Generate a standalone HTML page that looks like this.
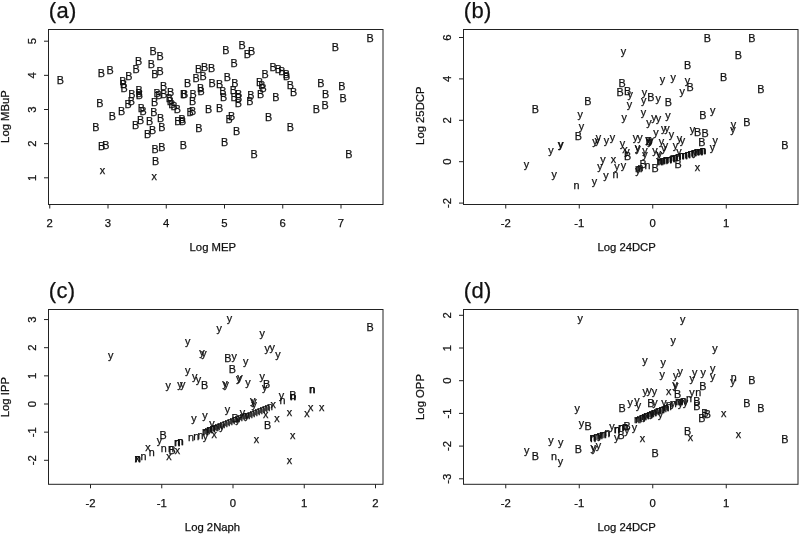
<!DOCTYPE html><html><head><meta charset="utf-8"><title>fig</title><style>
html,body{margin:0;padding:0;background:#fff}svg{display:block;will-change:transform}
text{font-family:"Liberation Sans",sans-serif;fill:#111;stroke:#111;stroke-width:0.25px}
.m{font-size:10.8px;text-anchor:middle}.t{font-size:11.3px;text-anchor:middle}.h{font-size:22.0px;letter-spacing:0.4px}
line,rect{stroke:#222;stroke-width:1;fill:none}
</style></head><body>
<svg width="800" height="534" viewBox="0 0 800 534">
<rect x="0" y="0" width="800" height="534" style="fill:#fff;stroke:none"/>
<g>
<rect x="48.50" y="29.50" width="334.50" height="175.00"/>
<text class="h" x="48.7" y="18.3">(a)</text>
<line x1="49.75" y1="204.50" x2="49.75" y2="208.50"/>
<text class="t" x="49.75" y="227.40">2</text>
<line x1="108.00" y1="204.50" x2="108.00" y2="208.50"/>
<text class="t" x="108.00" y="227.40">3</text>
<line x1="166.25" y1="204.50" x2="166.25" y2="208.50"/>
<text class="t" x="166.25" y="227.40">4</text>
<line x1="224.50" y1="204.50" x2="224.50" y2="208.50"/>
<text class="t" x="224.50" y="227.40">5</text>
<line x1="282.75" y1="204.50" x2="282.75" y2="208.50"/>
<text class="t" x="282.75" y="227.40">6</text>
<line x1="341.00" y1="204.50" x2="341.00" y2="208.50"/>
<text class="t" x="341.00" y="227.40">7</text>
<line x1="44.00" y1="177.80" x2="48.50" y2="177.80"/>
<text class="t" transform="translate(35.90,177.80) rotate(-90)">1</text>
<line x1="44.00" y1="143.65" x2="48.50" y2="143.65"/>
<text class="t" transform="translate(35.90,143.65) rotate(-90)">2</text>
<line x1="44.00" y1="109.50" x2="48.50" y2="109.50"/>
<text class="t" transform="translate(35.90,109.50) rotate(-90)">3</text>
<line x1="44.00" y1="75.35" x2="48.50" y2="75.35"/>
<text class="t" transform="translate(35.90,75.35) rotate(-90)">4</text>
<line x1="44.00" y1="41.20" x2="48.50" y2="41.20"/>
<text class="t" transform="translate(35.90,41.20) rotate(-90)">5</text>
<text class="t" x="212.80" y="250.80">Log MEP</text>
<text class="t" transform="translate(9.40,116.50) rotate(-90)">Log MBuP</text>
<text class="m" x="60.4" y="84.2">B</text>
<text class="m" x="101.3" y="76.8">B</text>
<text class="m" x="110.2" y="74.1">B</text>
<text class="m" x="99.8" y="106.8">B</text>
<text class="m" x="122.8" y="84.5">B</text>
<text class="m" x="123.5" y="88.1">B</text>
<text class="m" x="124.0" y="91.8">B</text>
<text class="m" x="128.9" y="79.7">B</text>
<text class="m" x="136.0" y="72.5">B</text>
<text class="m" x="138.5" y="64.9">B</text>
<text class="m" x="153.0" y="54.9">B</text>
<text class="m" x="160.2" y="60.4">B</text>
<text class="m" x="151.4" y="68.4">B</text>
<text class="m" x="154.9" y="77.5">B</text>
<text class="m" x="160.2" y="74.5">B</text>
<text class="m" x="163.6" y="89.7">B</text>
<text class="m" x="139.0" y="93.7">B</text>
<text class="m" x="139.1" y="96.7">B</text>
<text class="m" x="139.3" y="98.9">B</text>
<text class="m" x="131.9" y="98.4">B</text>
<text class="m" x="131.4" y="105.4">B</text>
<text class="m" x="128.1" y="107.6">B</text>
<text class="m" x="157.1" y="97.1">B</text>
<text class="m" x="158.9" y="99.3">B</text>
<text class="m" x="163.8" y="98.4">B</text>
<text class="m" x="170.6" y="95.9">B</text>
<text class="m" x="154.7" y="105.6">B</text>
<text class="m" x="169.3" y="102.1">B</text>
<text class="m" x="170.3" y="105.1">B</text>
<text class="m" x="171.8" y="107.6">B</text>
<text class="m" x="174.0" y="110.1">B</text>
<text class="m" x="141.3" y="112.2">B</text>
<text class="m" x="143.0" y="115.2">B</text>
<text class="m" x="121.7" y="115.4">B</text>
<text class="m" x="153.9" y="116.4">B</text>
<text class="m" x="112.3" y="120.4">B</text>
<text class="m" x="177.4" y="113.4">B</text>
<text class="m" x="95.8" y="130.7">B</text>
<text class="m" x="101.6" y="149.9">B</text>
<text class="m" x="105.8" y="149.1">B</text>
<text class="m" x="155.6" y="164.5">B</text>
<text class="m" x="155.1" y="152.9">B</text>
<text class="m" x="161.8" y="151.1">B</text>
<text class="m" x="147.7" y="138.2">B</text>
<text class="m" x="152.7" y="134.0">B</text>
<text class="m" x="161.8" y="131.2">B</text>
<text class="m" x="135.5" y="128.5">B</text>
<text class="m" x="140.5" y="124.0">B</text>
<text class="m" x="149.7" y="125.1">B</text>
<text class="m" x="160.6" y="121.5">B</text>
<text class="m" x="225.8" y="54.0">B</text>
<text class="m" x="242.0" y="49.0">B</text>
<text class="m" x="247.4" y="57.9">B</text>
<text class="m" x="251.7" y="54.9">B</text>
<text class="m" x="234.0" y="66.9">B</text>
<text class="m" x="198.5" y="72.8">B</text>
<text class="m" x="204.7" y="71.3">B</text>
<text class="m" x="211.5" y="71.6">B</text>
<text class="m" x="203.0" y="80.0">B</text>
<text class="m" x="196.0" y="82.2">B</text>
<text class="m" x="187.6" y="87.0">B</text>
<text class="m" x="212.2" y="87.0">B</text>
<text class="m" x="219.7" y="87.5">B</text>
<text class="m" x="227.3" y="81.2">B</text>
<text class="m" x="234.8" y="86.7">B</text>
<text class="m" x="233.3" y="93.9">B</text>
<text class="m" x="234.2" y="101.3">B</text>
<text class="m" x="238.7" y="98.1">B</text>
<text class="m" x="238.7" y="101.8">B</text>
<text class="m" x="238.3" y="106.8">B</text>
<text class="m" x="222.8" y="95.1">B</text>
<text class="m" x="223.6" y="100.9">B</text>
<text class="m" x="200.7" y="92.2">B</text>
<text class="m" x="201.1" y="94.9">B</text>
<text class="m" x="193.0" y="97.6">B</text>
<text class="m" x="192.6" y="105.1">B</text>
<text class="m" x="183.7" y="98.4">B</text>
<text class="m" x="184.6" y="98.4">B</text>
<text class="m" x="208.5" y="112.7">B</text>
<text class="m" x="219.7" y="112.1">B</text>
<text class="m" x="192.6" y="115.2">B</text>
<text class="m" x="190.1" y="116.3">B</text>
<text class="m" x="250.9" y="99.3">B</text>
<text class="m" x="249.9" y="105.1">B</text>
<text class="m" x="260.5" y="97.6">B</text>
<text class="m" x="259.6" y="86.4">B</text>
<text class="m" x="261.8" y="89.2">B</text>
<text class="m" x="263.0" y="92.2">B</text>
<text class="m" x="265.0" y="78.0">B</text>
<text class="m" x="273.0" y="70.8">B</text>
<text class="m" x="278.4" y="73.3">B</text>
<text class="m" x="281.9" y="75.3">B</text>
<text class="m" x="286.4" y="77.5">B</text>
<text class="m" x="286.7" y="80.0">B</text>
<text class="m" x="290.3" y="88.7">B</text>
<text class="m" x="293.6" y="95.6">B</text>
<text class="m" x="275.9" y="100.9">B</text>
<text class="m" x="231.6" y="119.8">B</text>
<text class="m" x="268.7" y="121.0">B</text>
<text class="m" x="177.9" y="124.8">B</text>
<text class="m" x="182.0" y="123.1">B</text>
<text class="m" x="182.6" y="125.1">B</text>
<text class="m" x="198.8" y="131.5">B</text>
<text class="m" x="183.4" y="149.1">B</text>
<text class="m" x="229.0" y="123.1">B</text>
<text class="m" x="236.5" y="135.2">B</text>
<text class="m" x="224.6" y="146.3">B</text>
<text class="m" x="254.1" y="157.8">B</text>
<text class="m" x="290.3" y="131.2">B</text>
<text class="m" x="370.2" y="41.8">B</text>
<text class="m" x="335.4" y="51.0">B</text>
<text class="m" x="320.8" y="87.0">B</text>
<text class="m" x="325.6" y="97.6">B</text>
<text class="m" x="325.0" y="109.0">B</text>
<text class="m" x="316.4" y="113.0">B</text>
<text class="m" x="341.9" y="90.4">B</text>
<text class="m" x="343.1" y="101.8">B</text>
<text class="m" x="348.8" y="158.3">B</text>
<text class="m" x="102.5" y="174.3">x</text>
<text class="m" x="154.2" y="179.8">x</text>
</g>
<g>
<rect x="463.50" y="29.50" width="334.50" height="175.00"/>
<text class="h" x="463.7" y="18.3">(b)</text>
<line x1="505.75" y1="204.50" x2="505.75" y2="208.50"/>
<text class="t" x="505.75" y="227.40">-2</text>
<line x1="579.25" y1="204.50" x2="579.25" y2="208.50"/>
<text class="t" x="579.25" y="227.40">-1</text>
<line x1="652.75" y1="204.50" x2="652.75" y2="208.50"/>
<text class="t" x="652.75" y="227.40">0</text>
<line x1="726.25" y1="204.50" x2="726.25" y2="208.50"/>
<text class="t" x="726.25" y="227.40">1</text>
<line x1="459.00" y1="203.10" x2="463.50" y2="203.10"/>
<text class="t" transform="translate(450.90,203.10) rotate(-90)">-2</text>
<line x1="459.00" y1="161.70" x2="463.50" y2="161.70"/>
<text class="t" transform="translate(450.90,161.70) rotate(-90)">0</text>
<line x1="459.00" y1="120.30" x2="463.50" y2="120.30"/>
<text class="t" transform="translate(450.90,120.30) rotate(-90)">2</text>
<line x1="459.00" y1="78.90" x2="463.50" y2="78.90"/>
<text class="t" transform="translate(450.90,78.90) rotate(-90)">4</text>
<line x1="459.00" y1="37.50" x2="463.50" y2="37.50"/>
<text class="t" transform="translate(450.90,37.50) rotate(-90)">6</text>
<text class="t" x="626.60" y="250.80">Log 24DCP</text>
<text class="t" transform="translate(424.40,115.70) rotate(-90)">Log 25DCP</text>
<text class="m" x="535.4" y="112.9">B</text>
<text class="m" x="587.8" y="104.5">B</text>
<text class="m" x="578.4" y="140.4">B</text>
<text class="m" x="707.3" y="41.8">B</text>
<text class="m" x="687.7" y="68.8">B</text>
<text class="m" x="690.0" y="90.9">B</text>
<text class="m" x="622.0" y="87.0">B</text>
<text class="m" x="620.2" y="95.6">B</text>
<text class="m" x="627.7" y="94.6">B</text>
<text class="m" x="650.8" y="101.4">B</text>
<text class="m" x="668.3" y="106.1">B</text>
<text class="m" x="751.9" y="42.0">B</text>
<text class="m" x="738.4" y="59.1">B</text>
<text class="m" x="723.5" y="80.5">B</text>
<text class="m" x="760.8" y="92.6">B</text>
<text class="m" x="702.8" y="119.4">B</text>
<text class="m" x="697.5" y="136.4">B</text>
<text class="m" x="705.0" y="136.9">B</text>
<text class="m" x="701.8" y="145.9">B</text>
<text class="m" x="746.9" y="126.0">B</text>
<text class="m" x="784.9" y="149.1">B</text>
<text class="m" x="627.5" y="160.4">B</text>
<text class="m" x="643.0" y="168.4">B</text>
<text class="m" x="655.0" y="172.4">B</text>
<text class="m" x="678.0" y="167.9">B</text>
<text class="m" x="649.0" y="145.4">B</text>
<text class="m" x="623.5" y="54.8">y</text>
<text class="m" x="662.4" y="83.3">y</text>
<text class="m" x="673.3" y="80.5">y</text>
<text class="m" x="687.5" y="83.5">y</text>
<text class="m" x="682.2" y="94.7">y</text>
<text class="m" x="630.2" y="97.7">y</text>
<text class="m" x="629.4" y="108.2">y</text>
<text class="m" x="644.5" y="95.5">y</text>
<text class="m" x="643.6" y="104.2">y</text>
<text class="m" x="658.3" y="102.1">y</text>
<text class="m" x="712.7" y="113.5">y</text>
<text class="m" x="643.5" y="115.7">y</text>
<text class="m" x="624.2" y="121.2">y</text>
<text class="m" x="649.0" y="125.7">y</text>
<text class="m" x="654.0" y="121.2">y</text>
<text class="m" x="658.5" y="121.7">y</text>
<text class="m" x="668.0" y="118.7">y</text>
<text class="m" x="656.0" y="136.2">y</text>
<text class="m" x="663.7" y="132.2">y</text>
<text class="m" x="667.0" y="131.7">y</text>
<text class="m" x="671.5" y="138.2">y</text>
<text class="m" x="692.5" y="132.7">y</text>
<text class="m" x="733.5" y="127.5">y</text>
<text class="m" x="733.0" y="132.8">y</text>
<text class="m" x="715.2" y="144.2">y</text>
<text class="m" x="712.5" y="151.0">y</text>
<text class="m" x="598.5" y="140.7">y</text>
<text class="m" x="595.0" y="144.7">y</text>
<text class="m" x="597.5" y="143.7">y</text>
<text class="m" x="606.5" y="144.2">y</text>
<text class="m" x="612.5" y="140.7">y</text>
<text class="m" x="635.5" y="140.7">y</text>
<text class="m" x="640.0" y="140.7">y</text>
<text class="m" x="622.5" y="147.4">y</text>
<text class="m" x="627.0" y="154.7">y</text>
<text class="m" x="661.5" y="144.7">y</text>
<text class="m" x="679.5" y="141.7">y</text>
<text class="m" x="682.5" y="144.2">y</text>
<text class="m" x="665.5" y="149.2">y</text>
<text class="m" x="675.5" y="149.2">y</text>
<text class="m" x="637.5" y="151.2">y</text>
<text class="m" x="638.0" y="151.5">y</text>
<text class="m" x="645.0" y="154.2">y</text>
<text class="m" x="645.0" y="157.7">y</text>
<text class="m" x="655.0" y="153.7">y</text>
<text class="m" x="659.5" y="157.7">y</text>
<text class="m" x="664.0" y="151.7">y</text>
<text class="m" x="658.5" y="156.7">y</text>
<text class="m" x="679.0" y="154.7">y</text>
<text class="m" x="603.0" y="162.7">y</text>
<text class="m" x="600.0" y="169.7">y</text>
<text class="m" x="617.0" y="169.7">y</text>
<text class="m" x="623.5" y="169.2">y</text>
<text class="m" x="606.0" y="179.2">y</text>
<text class="m" x="594.5" y="184.7">y</text>
<text class="m" x="580.3" y="117.8">y</text>
<text class="m" x="581.4" y="130.0">y</text>
<text class="m" x="560.5" y="147.9">y</text>
<text class="m" x="561.0" y="147.7">y</text>
<text class="m" x="551.0" y="153.8">y</text>
<text class="m" x="526.5" y="168.3">y</text>
<text class="m" x="554.3" y="177.7">y</text>
<text class="m" x="638.0" y="174.2">y</text>
<text class="m" x="695.0" y="155.7">y</text>
<text class="m" x="648.0" y="143.2">y</text>
<text class="m" x="650.0" y="145.2">y</text>
<text class="m" x="651.0" y="143.7">y</text>
<text class="m" x="576.4" y="188.5">n</text>
<text class="m" x="615.5" y="177.8">n</text>
<text class="m" x="647.5" y="169.3">n</text>
<text class="m" x="638.0" y="172.3">n</text>
<text class="m" x="639.5" y="171.8">n</text>
<text class="m" x="640.5" y="171.3">n</text>
<text class="m" x="659.5" y="164.8">n</text>
<text class="m" x="662.6" y="164.0">n</text>
<text class="m" x="665.7" y="163.3">n</text>
<text class="m" x="668.8" y="162.5">n</text>
<text class="m" x="671.9" y="161.7">n</text>
<text class="m" x="675.0" y="160.9">n</text>
<text class="m" x="678.1" y="160.1">n</text>
<text class="m" x="681.2" y="159.3">n</text>
<text class="m" x="684.4" y="158.5">n</text>
<text class="m" x="687.5" y="157.8">n</text>
<text class="m" x="690.6" y="157.0">n</text>
<text class="m" x="693.7" y="156.2">n</text>
<text class="m" x="696.8" y="155.4">n</text>
<text class="m" x="699.9" y="154.6">n</text>
<text class="m" x="703.0" y="153.8">n</text>
<text class="m" x="660.0" y="164.8">n</text>
<text class="m" x="663.1" y="164.0">n</text>
<text class="m" x="666.2" y="163.3">n</text>
<text class="m" x="669.3" y="162.5">n</text>
<text class="m" x="672.4" y="161.7">n</text>
<text class="m" x="675.5" y="160.9">n</text>
<text class="m" x="678.6" y="160.1">n</text>
<text class="m" x="681.8" y="159.3">n</text>
<text class="m" x="684.9" y="158.5">n</text>
<text class="m" x="688.0" y="157.8">n</text>
<text class="m" x="691.1" y="157.0">n</text>
<text class="m" x="694.2" y="156.2">n</text>
<text class="m" x="697.3" y="155.4">n</text>
<text class="m" x="700.4" y="154.6">n</text>
<text class="m" x="703.5" y="153.8">n</text>
<text class="m" x="661.0" y="164.5">n</text>
<text class="m" x="665.0" y="163.5">n</text>
<text class="m" x="669.0" y="162.5">n</text>
<text class="m" x="673.0" y="161.4">n</text>
<text class="m" x="702.6" y="154.1">n</text>
<text class="m" x="699.5" y="154.6">n</text>
<text class="m" x="613.5" y="163.3">x</text>
<text class="m" x="697.5" y="171.3">x</text>
<text class="m" x="625.0" y="152.8">x</text>
<text class="m" x="648.5" y="144.8">x</text>
</g>
<g>
<rect x="48.50" y="309.50" width="334.50" height="174.80"/>
<text class="h" x="48.7" y="298.0">(c)</text>
<line x1="90.50" y1="484.30" x2="90.50" y2="488.30"/>
<text class="t" x="90.50" y="507.20">-2</text>
<line x1="161.75" y1="484.30" x2="161.75" y2="488.30"/>
<text class="t" x="161.75" y="507.20">-1</text>
<line x1="233.00" y1="484.30" x2="233.00" y2="488.30"/>
<text class="t" x="233.00" y="507.20">0</text>
<line x1="304.25" y1="484.30" x2="304.25" y2="488.30"/>
<text class="t" x="304.25" y="507.20">1</text>
<line x1="375.50" y1="484.30" x2="375.50" y2="488.30"/>
<text class="t" x="375.50" y="507.20">2</text>
<line x1="44.00" y1="460.30" x2="48.50" y2="460.30"/>
<text class="t" transform="translate(35.90,460.30) rotate(-90)">-2</text>
<line x1="44.00" y1="432.15" x2="48.50" y2="432.15"/>
<text class="t" transform="translate(35.90,432.15) rotate(-90)">-1</text>
<line x1="44.00" y1="404.00" x2="48.50" y2="404.00"/>
<text class="t" transform="translate(35.90,404.00) rotate(-90)">0</text>
<line x1="44.00" y1="375.85" x2="48.50" y2="375.85"/>
<text class="t" transform="translate(35.90,375.85) rotate(-90)">1</text>
<line x1="44.00" y1="347.70" x2="48.50" y2="347.70"/>
<text class="t" transform="translate(35.90,347.70) rotate(-90)">2</text>
<line x1="44.00" y1="319.55" x2="48.50" y2="319.55"/>
<text class="t" transform="translate(35.90,319.55) rotate(-90)">3</text>
<text class="t" x="212.50" y="530.60">Log 2Naph</text>
<text class="t" transform="translate(9.40,397.10) rotate(-90)">Log IPP</text>
<text class="m" x="110.8" y="358.8">y</text>
<text class="m" x="168.1" y="389.3">y</text>
<text class="m" x="180.0" y="388.1">y</text>
<text class="m" x="182.6" y="387.6">y</text>
<text class="m" x="229.5" y="321.9">y</text>
<text class="m" x="219.1" y="331.7">y</text>
<text class="m" x="187.6" y="345.4">y</text>
<text class="m" x="262.1" y="337.3">y</text>
<text class="m" x="267.2" y="351.6">y</text>
<text class="m" x="272.2" y="350.9">y</text>
<text class="m" x="278.0" y="357.6">y</text>
<text class="m" x="202.0" y="356.2">y</text>
<text class="m" x="204.0" y="357.2">y</text>
<text class="m" x="234.2" y="360.0">y</text>
<text class="m" x="245.7" y="364.7">y</text>
<text class="m" x="187.6" y="373.9">y</text>
<text class="m" x="194.8" y="379.7">y</text>
<text class="m" x="198.5" y="382.6">y</text>
<text class="m" x="225.0" y="387.0">y</text>
<text class="m" x="226.1" y="388.1">y</text>
<text class="m" x="238.8" y="381.6">y</text>
<text class="m" x="240.0" y="380.7">y</text>
<text class="m" x="247.9" y="385.6">y</text>
<text class="m" x="262.1" y="379.7">y</text>
<text class="m" x="264.6" y="390.9">y</text>
<text class="m" x="159.4" y="443.7">y</text>
<text class="m" x="227.4" y="413.2">y</text>
<text class="m" x="205.0" y="419.3">y</text>
<text class="m" x="194.0" y="422.4">y</text>
<text class="m" x="212.0" y="426.5">y</text>
<text class="m" x="242.5" y="415.7">y</text>
<text class="m" x="205.4" y="440.4">y</text>
<text class="m" x="254.0" y="405.2">y</text>
<text class="m" x="252.6" y="403.6">y</text>
<text class="m" x="254.2" y="407.7">y</text>
<text class="m" x="281.4" y="398.9">y</text>
<text class="m" x="222.0" y="429.7">y</text>
<text class="m" x="238.0" y="422.7">y</text>
<text class="m" x="247.0" y="418.7">y</text>
<text class="m" x="227.8" y="362.2">B</text>
<text class="m" x="232.3" y="373.4">B</text>
<text class="m" x="204.7" y="388.8">B</text>
<text class="m" x="266.7" y="387.9">B</text>
<text class="m" x="292.8" y="399.4">B</text>
<text class="m" x="370.2" y="331.2">B</text>
<text class="m" x="163.1" y="438.8">B</text>
<text class="m" x="172.1" y="453.5">B</text>
<text class="m" x="267.6" y="428.8">B</text>
<text class="m" x="235.0" y="422.4">B</text>
<text class="m" x="171.0" y="452.1">n</text>
<text class="m" x="137.5" y="462.1">n</text>
<text class="m" x="138.0" y="461.9">n</text>
<text class="m" x="143.4" y="459.8">n</text>
<text class="m" x="151.8" y="456.4">n</text>
<text class="m" x="163.7" y="451.8">n</text>
<text class="m" x="176.9" y="446.0">n</text>
<text class="m" x="177.4" y="445.8">n</text>
<text class="m" x="180.3" y="444.7">n</text>
<text class="m" x="180.8" y="444.5">n</text>
<text class="m" x="191.1" y="440.5">n</text>
<text class="m" x="196.2" y="439.7">n</text>
<text class="m" x="200.4" y="438.8">n</text>
<text class="m" x="282.4" y="404.2">n</text>
<text class="m" x="292.8" y="400.4">n</text>
<text class="m" x="293.3" y="400.4">n</text>
<text class="m" x="312.0" y="393.2">n</text>
<text class="m" x="312.5" y="393.2">n</text>
<text class="m" x="205.0" y="434.8">n</text>
<text class="m" x="207.5" y="433.9">n</text>
<text class="m" x="210.0" y="432.9">n</text>
<text class="m" x="212.5" y="431.9">n</text>
<text class="m" x="215.0" y="431.0">n</text>
<text class="m" x="217.5" y="430.0">n</text>
<text class="m" x="220.0" y="429.1">n</text>
<text class="m" x="222.5" y="428.1">n</text>
<text class="m" x="225.0" y="427.1">n</text>
<text class="m" x="227.5" y="426.2">n</text>
<text class="m" x="230.0" y="425.2">n</text>
<text class="m" x="232.5" y="424.3">n</text>
<text class="m" x="235.0" y="423.3">n</text>
<text class="m" x="237.5" y="422.3">n</text>
<text class="m" x="240.0" y="421.4">n</text>
<text class="m" x="242.5" y="420.4">n</text>
<text class="m" x="245.0" y="419.4">n</text>
<text class="m" x="247.5" y="418.5">n</text>
<text class="m" x="250.0" y="417.5">n</text>
<text class="m" x="252.5" y="416.6">n</text>
<text class="m" x="255.0" y="415.6">n</text>
<text class="m" x="257.5" y="414.6">n</text>
<text class="m" x="260.0" y="413.7">n</text>
<text class="m" x="262.5" y="412.7">n</text>
<text class="m" x="265.0" y="411.8">n</text>
<text class="m" x="267.5" y="410.8">n</text>
<text class="m" x="270.0" y="409.8">n</text>
<text class="m" x="206.0" y="434.6">n</text>
<text class="m" x="209.3" y="433.4">n</text>
<text class="m" x="212.7" y="432.1">n</text>
<text class="m" x="216.0" y="430.8">n</text>
<text class="m" x="137.5" y="462.3">x</text>
<text class="m" x="148.0" y="451.4">x</text>
<text class="m" x="169.0" y="460.3">x</text>
<text class="m" x="177.5" y="454.4">x</text>
<text class="m" x="214.2" y="437.9">x</text>
<text class="m" x="273.2" y="407.9">x</text>
<text class="m" x="310.7" y="410.9">x</text>
<text class="m" x="321.6" y="410.9">x</text>
<text class="m" x="307.0" y="416.8">x</text>
<text class="m" x="289.4" y="416.3">x</text>
<text class="m" x="276.9" y="422.2">x</text>
<text class="m" x="265.6" y="418.0">x</text>
<text class="m" x="256.4" y="443.1">x</text>
<text class="m" x="292.8" y="438.6">x</text>
<text class="m" x="289.4" y="463.5">x</text>
</g>
<g>
<rect x="463.50" y="309.50" width="334.50" height="174.80"/>
<text class="h" x="463.7" y="298.0">(d)</text>
<line x1="505.75" y1="484.30" x2="505.75" y2="488.30"/>
<text class="t" x="505.75" y="507.20">-2</text>
<line x1="579.25" y1="484.30" x2="579.25" y2="488.30"/>
<text class="t" x="579.25" y="507.20">-1</text>
<line x1="652.75" y1="484.30" x2="652.75" y2="488.30"/>
<text class="t" x="652.75" y="507.20">0</text>
<line x1="726.25" y1="484.30" x2="726.25" y2="488.30"/>
<text class="t" x="726.25" y="507.20">1</text>
<line x1="459.00" y1="478.80" x2="463.50" y2="478.80"/>
<text class="t" transform="translate(450.90,478.80) rotate(-90)">-3</text>
<line x1="459.00" y1="446.10" x2="463.50" y2="446.10"/>
<text class="t" transform="translate(450.90,446.10) rotate(-90)">-2</text>
<line x1="459.00" y1="413.40" x2="463.50" y2="413.40"/>
<text class="t" transform="translate(450.90,413.40) rotate(-90)">-1</text>
<line x1="459.00" y1="380.70" x2="463.50" y2="380.70"/>
<text class="t" transform="translate(450.90,380.70) rotate(-90)">0</text>
<line x1="459.00" y1="348.00" x2="463.50" y2="348.00"/>
<text class="t" transform="translate(450.90,348.00) rotate(-90)">1</text>
<line x1="459.00" y1="315.30" x2="463.50" y2="315.30"/>
<text class="t" transform="translate(450.90,315.30) rotate(-90)">2</text>
<text class="t" x="626.60" y="530.60">Log 24DCP</text>
<text class="t" transform="translate(424.40,397.00) rotate(-90)">Log OPP</text>
<text class="m" x="580.3" y="321.9">y</text>
<text class="m" x="577.3" y="412.0">y</text>
<text class="m" x="581.4" y="427.0">y</text>
<text class="m" x="551.0" y="444.3">y</text>
<text class="m" x="560.8" y="446.0">y</text>
<text class="m" x="526.7" y="453.8">y</text>
<text class="m" x="560.5" y="465.1">y</text>
<text class="m" x="593.2" y="450.5">y</text>
<text class="m" x="682.7" y="323.1">y</text>
<text class="m" x="673.3" y="344.2">y</text>
<text class="m" x="714.9" y="351.5">y</text>
<text class="m" x="645.0" y="364.3">y</text>
<text class="m" x="663.1" y="365.5">y</text>
<text class="m" x="662.1" y="377.7">y</text>
<text class="m" x="675.6" y="379.2">y</text>
<text class="m" x="680.1" y="375.0">y</text>
<text class="m" x="694.7" y="376.3">y</text>
<text class="m" x="692.1" y="382.1">y</text>
<text class="m" x="703.1" y="376.1">y</text>
<text class="m" x="712.6" y="372.1">y</text>
<text class="m" x="712.6" y="380.0">y</text>
<text class="m" x="675.0" y="388.1">y</text>
<text class="m" x="675.6" y="388.7">y</text>
<text class="m" x="645.2" y="395.0">y</text>
<text class="m" x="649.3" y="393.9">y</text>
<text class="m" x="654.5" y="395.1">y</text>
<text class="m" x="691.9" y="396.0">y</text>
<text class="m" x="733.0" y="385.4">y</text>
<text class="m" x="630.1" y="406.1">y</text>
<text class="m" x="637.0" y="404.1">y</text>
<text class="m" x="638.4" y="409.3">y</text>
<text class="m" x="655.0" y="405.5">y</text>
<text class="m" x="664.0" y="405.7">y</text>
<text class="m" x="594.2" y="452.2">y</text>
<text class="m" x="598.4" y="448.8">y</text>
<text class="m" x="616.8" y="440.5">y</text>
<text class="m" x="626.9" y="433.8">y</text>
<text class="m" x="634.4" y="430.6">y</text>
<text class="m" x="660.4" y="417.9">y</text>
<text class="m" x="680.5" y="407.0">y</text>
<text class="m" x="685.5" y="406.1">y</text>
<text class="m" x="612.0" y="429.7">y</text>
<text class="m" x="600.0" y="438.7">y</text>
<text class="m" x="645.0" y="419.7">y</text>
<text class="m" x="652.0" y="416.7">y</text>
<text class="m" x="673.0" y="406.7">y</text>
<text class="m" x="588.1" y="429.7">B</text>
<text class="m" x="578.3" y="452.9">B</text>
<text class="m" x="535.4" y="459.7">B</text>
<text class="m" x="702.8" y="390.1">B</text>
<text class="m" x="677.5" y="398.4">B</text>
<text class="m" x="622.0" y="411.7">B</text>
<text class="m" x="650.8" y="406.9">B</text>
<text class="m" x="627.0" y="429.9">B</text>
<text class="m" x="621.0" y="439.2">B</text>
<text class="m" x="696.9" y="405.4">B</text>
<text class="m" x="696.9" y="409.7">B</text>
<text class="m" x="701.8" y="421.7">B</text>
<text class="m" x="704.9" y="417.2">B</text>
<text class="m" x="707.4" y="418.3">B</text>
<text class="m" x="687.6" y="435.1">B</text>
<text class="m" x="655.0" y="456.7">B</text>
<text class="m" x="751.9" y="384.1">B</text>
<text class="m" x="746.9" y="407.0">B</text>
<text class="m" x="760.8" y="412.1">B</text>
<text class="m" x="784.9" y="442.9">B</text>
<text class="m" x="554.1" y="460.3">n</text>
<text class="m" x="593.2" y="442.2">n</text>
<text class="m" x="698.3" y="395.6">n</text>
<text class="m" x="733.8" y="380.5">n</text>
<text class="m" x="616.8" y="433.0">n</text>
<text class="m" x="621.0" y="431.4">n</text>
<text class="m" x="592.5" y="441.4">n</text>
<text class="m" x="596.3" y="440.2">n</text>
<text class="m" x="600.0" y="438.9">n</text>
<text class="m" x="603.8" y="437.7">n</text>
<text class="m" x="607.6" y="436.4">n</text>
<text class="m" x="637.0" y="423.0">n</text>
<text class="m" x="639.4" y="422.0">n</text>
<text class="m" x="641.9" y="421.0">n</text>
<text class="m" x="644.3" y="419.9">n</text>
<text class="m" x="646.8" y="418.9">n</text>
<text class="m" x="649.2" y="417.9">n</text>
<text class="m" x="651.7" y="416.8">n</text>
<text class="m" x="654.1" y="415.8">n</text>
<text class="m" x="656.6" y="414.8">n</text>
<text class="m" x="659.0" y="413.8">n</text>
<text class="m" x="661.5" y="412.7">n</text>
<text class="m" x="663.9" y="411.7">n</text>
<text class="m" x="666.4" y="410.7">n</text>
<text class="m" x="668.8" y="409.6">n</text>
<text class="m" x="638.3" y="422.6">n</text>
<text class="m" x="642.3" y="421.0">n</text>
<text class="m" x="646.2" y="419.3">n</text>
<text class="m" x="650.2" y="417.7">n</text>
<text class="m" x="654.1" y="416.0">n</text>
<text class="m" x="658.1" y="414.3">n</text>
<text class="m" x="662.0" y="412.7">n</text>
<text class="m" x="666.0" y="411.0">n</text>
<text class="m" x="593.0" y="441.2">n</text>
<text class="m" x="597.7" y="439.7">n</text>
<text class="m" x="602.3" y="438.2">n</text>
<text class="m" x="607.0" y="436.6">n</text>
<text class="m" x="617.2" y="432.8">n</text>
<text class="m" x="621.4" y="431.2">n</text>
<text class="m" x="625.0" y="429.8">n</text>
<text class="m" x="625.5" y="429.6">n</text>
<text class="m" x="678.0" y="405.3">n</text>
<text class="m" x="683.0" y="403.8">n</text>
<text class="m" x="680.5" y="404.6">n</text>
<text class="m" x="668.8" y="407.9">n</text>
<text class="m" x="673.8" y="406.5">n</text>
<text class="m" x="678.8" y="405.0">n</text>
<text class="m" x="683.9" y="403.5">n</text>
<text class="m" x="688.9" y="402.0">n</text>
<text class="m" x="668.6" y="395.4">x</text>
<text class="m" x="723.8" y="416.8">x</text>
<text class="m" x="738.4" y="437.6">x</text>
<text class="m" x="690.5" y="441.2">x</text>
<text class="m" x="642.5" y="441.7">x</text>
</g>
</svg></body></html>
